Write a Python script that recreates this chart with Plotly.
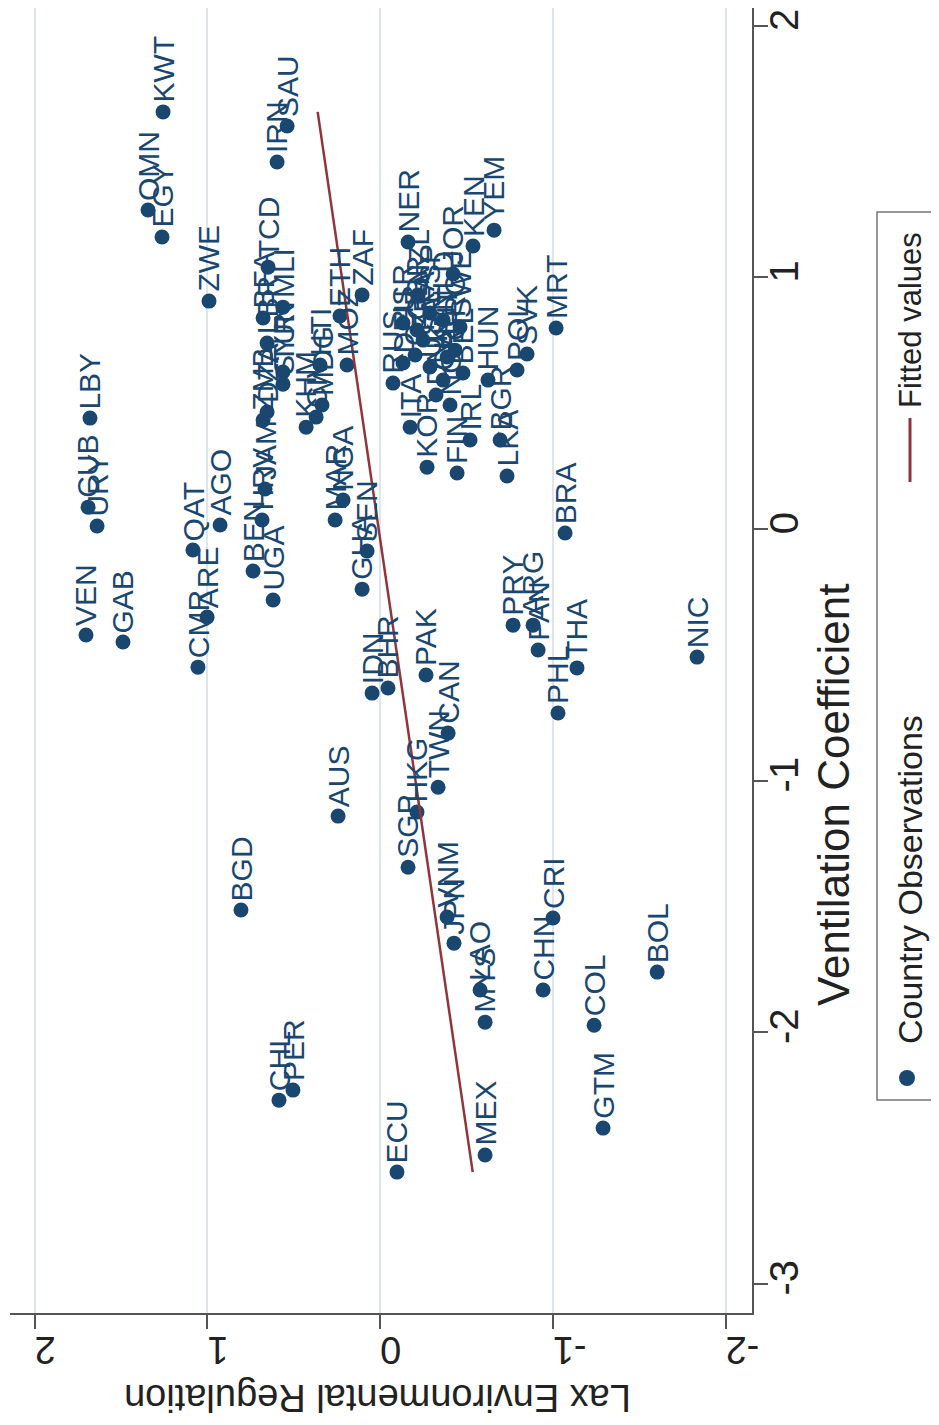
import plotly.graph_objects as go

# ---- data ----
countries = ["KWT","OMN","EGY","ZWE","IRN","SAU","TCD","MLI","BFA","LBR",
             "TUN","SYR","DZA","ZMB","JAM","HRV","BEN","UGA","QAT","AGO",
             "ARE","CMR","VEN","GAB","LBY","CUB","URY","HTI","MDG","CIV",
             "KHM","ETH","ZAF","MOZ","NGA","MAR","SEN","GHA","NER","KEN",
             "YEM","JOR","MRT","SVK","POL","HUN","BGR","LKA","IRL","FIN",
             "KOR","ITA","RUS","ISR","GBR","ESP","NLD","SWE","FRA","DEU",
             "USA","AUT","BEL","CHE","DNK","NOR","NZL","CZE","GRC","IDN",
             "BHR","PAK","CAN","TWN","HKG","AUS","BGD","SGP","VNM","JPN",
             "LAO","MYS","CHN","CRI","COL","BOL","GTM","MEX","ECU","CHL",
             "PER","PRY","ARG","PAN","PHL","THA","NIC","BRA"]
vent_coef = [1.658,1.268,1.161,0.906,1.459,1.602,1.041,0.882,0.839,0.739,
             0.624,0.576,0.465,0.433,0.159,0.036,-0.167,-0.282,-0.083,0.016,
             -0.350,-0.549,-0.421,-0.449,0.441,0.087,0.012,0.652,0.493,0.445,
             0.405,0.847,0.930,0.652,0.115,0.036,-0.087,-0.239,1.141,1.125,
             1.188,1.014,0.799,0.696,0.632,0.592,0.354,0.211,0.354,0.223,
             0.246,0.405,0.580,0.819,0.791,0.859,0.831,0.803,0.751,0.660,
             0.644,0.684,0.620,0.592,0.533,0.493,0.930,0.692,0.711,-0.652,
             -0.632,-0.580,-0.811,-1.026,-1.125,-1.141,-1.514,-1.344,-1.542,-1.646,
             -1.832,-1.960,-1.832,-1.546,-1.972,-1.761,-2.381,-2.488,-2.556,-2.270,
             -2.230,-0.382,-0.382,-0.481,-0.731,-0.552,-0.509,-0.016]
lax_reg = [1.256,1.343,1.262,0.990,0.596,0.538,0.648,0.562,0.677,0.654,
           0.562,0.562,0.654,0.677,0.666,0.683,0.735,0.619,1.083,0.926,
           1.001,1.054,1.702,1.488,1.679,1.690,1.638,0.347,0.336,0.370,
           0.428,0.232,0.104,0.191,0.214,0.260,0.075,0.104,-0.162,-0.538,
           -0.660,-0.423,-1.019,-0.851,-0.793,-0.625,-0.695,-0.735,-0.521,-0.446,
           -0.272,-0.174,-0.075,-0.133,-0.214,-0.289,-0.365,-0.463,-0.249,-0.133,
           -0.289,-0.388,-0.480,-0.365,-0.324,-0.405,-0.220,-0.203,-0.434,0.046,
           -0.046,-0.266,-0.394,-0.336,-0.214,0.243,0.805,-0.162,-0.388,-0.428,
           -0.579,-0.608,-0.944,-1.001,-1.239,-1.604,-1.291,-0.608,-0.098,0.585,
           0.504,-0.770,-0.886,-0.915,-1.030,-1.140,-1.835,-1.071]

# fitted line: lax_reg = fit_intercept + fit_slope * vent_coef
fit_intercept = 0.008
fit_slope = 0.213

lax_ticks = [2, 1, 0, -1, -2]
vent_ticks = [2, 1, 0, -1, -2, -3]

NAVY = "#1a476f"
MAROON = "#90353b"
FONT = "Liberation Sans, Arial, sans-serif"

# page has an 8px body margin, so the figure is sized to fit inside the window
OFF = 8
W, H = 939 - OFF, 1425 - OFF
ML, MR, MT, MB = 2, 187, 0, 112
PW, PH = W - ML - MR, H - MT - MB


def px(x):
    return (x - OFF - ML) / PW


def py(y):
    return 1 - (y - OFF - MT) / PH


fig = go.Figure()

vmin, vmax = min(vent_coef), max(vent_coef)
fit_v = [vmin, vmax]
fit_l = [fit_intercept + fit_slope * v for v in fit_v]

fig.add_trace(go.Scatter(x=lax_reg, y=vent_coef, mode="markers",
                         marker=dict(color=NAVY, size=15, line=dict(width=0)),
                         name="Country Observations", hoverinfo="text",
                         text=countries))
fig.add_trace(go.Scatter(x=fit_l, y=fit_v, mode="lines",
                         line=dict(color=MAROON, width=2.5),
                         name="Fitted values"))

annotations = []
for c, l, v in zip(countries, lax_reg, vent_coef):
    annotations.append(dict(x=l, y=v, xref="x", yref="y", text=c,
                            showarrow=False, textangle=-90,
                            xanchor="center", yanchor="bottom", yshift=7,
                            font=dict(family=FONT, size=30, color=NAVY)))

# axis titles
annotations.append(dict(x=px(833), y=py(795), xref="paper", yref="paper",
                        text="Ventilation Coefficient", showarrow=False,
                        textangle=-90, xanchor="center", yanchor="middle",
                        font=dict(family=FONT, size=44, color="#222")))
annotations.append(dict(x=px(378), y=py(1398), xref="paper", yref="paper",
                        text="Lax Environmental Regulation", showarrow=False,
                        textangle=180, xanchor="center", yanchor="middle",
                        font=dict(family=FONT, size=38, color="#222")))
# legend texts
annotations.append(dict(x=px(910), y=py(320), xref="paper", yref="paper",
                        text="Fitted values", showarrow=False,
                        textangle=-90, xanchor="center", yanchor="middle",
                        font=dict(family=FONT, size=31, color="#222")))
annotations.append(dict(x=px(910), y=py(880), xref="paper", yref="paper",
                        text="Country Observations", showarrow=False,
                        textangle=-90, xanchor="center", yanchor="middle",
                        font=dict(family=FONT, size=34, color="#222")))

shapes = [
    dict(type="rect", xref="paper", yref="paper",
         x0=px(877), x1=px(990), y0=py(1100), y1=py(212),
         line=dict(color="#777", width=1.5), fillcolor="rgba(0,0,0,0)"),
    dict(type="line", xref="paper", yref="paper",
         x0=px(910), x1=px(910), y0=py(418), y1=py(482),
         line=dict(color=MAROON, width=3)),
    dict(type="circle", xref="paper", yref="paper",
         x0=px(899), x1=px(915), y0=py(1086), y1=py(1070),
         fillcolor=NAVY, line=dict(width=0)),
]

fig.update_layout(
    width=W, height=H,
    margin=dict(l=ML, r=MR, t=MT, b=MB),
    plot_bgcolor="white", paper_bgcolor="white",
    showlegend=False,
    annotations=annotations, shapes=shapes,
    xaxis=dict(range=[2.142, -2.153], tickvals=lax_ticks,
               ticktext=[str(t) for t in lax_ticks], tickangle=180,
               tickfont=dict(family=FONT, size=38, color="#222"),
               showgrid=True, gridcolor="#dde6ec", gridwidth=2,
               zeroline=False, showline=True, linecolor="#555", linewidth=2,
               ticks="outside", ticklen=14, tickwidth=2, tickcolor="#555"),
    yaxis=dict(range=[-3.116, 2.071], tickvals=vent_ticks,
               ticktext=[str(t) for t in vent_ticks], tickangle=-90,
               side="right", ticklabelstandoff=-18,
               tickfont=dict(family=FONT, size=40, color="#222"),
               showgrid=False, zeroline=False, showline=True,
               linecolor="#555", linewidth=2,
               ticks="outside", ticklen=14, tickwidth=2, tickcolor="#555"),
)

fig.write_html("out.html")
